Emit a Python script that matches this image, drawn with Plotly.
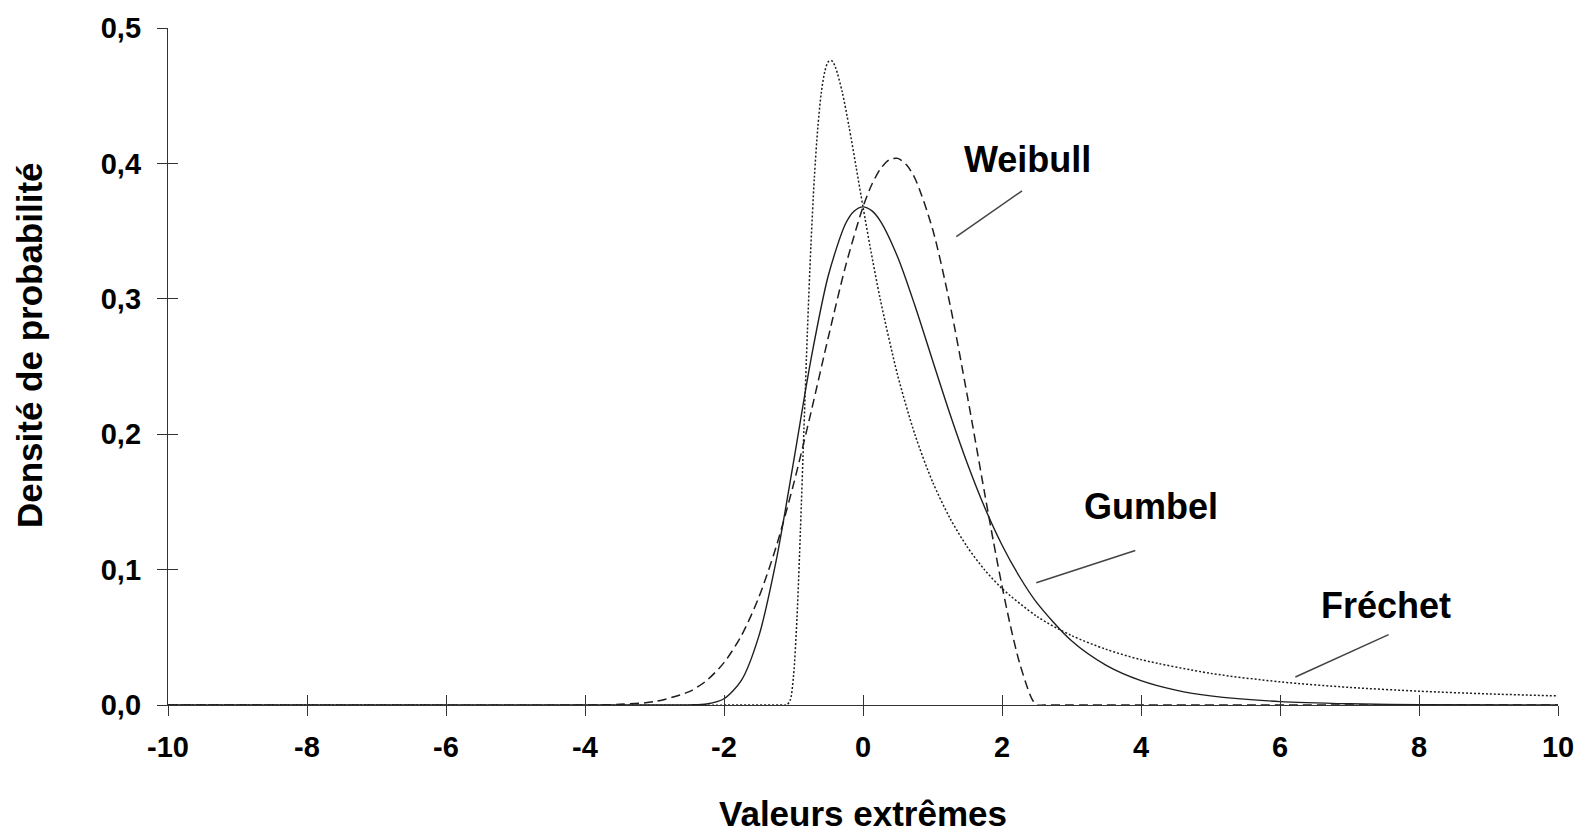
import plotly.graph_objects as go

# ---------------- data ----------------
gumbel_x = [-10, -4, -3, -2.5, -2.25, -2, -1.75, -1.5, -1.25, -1, -0.75, -0.5, -0.25, -0.125,
            0, 0.125, 0.25, 0.5, 0.75, 1, 1.25, 1.5, 1.75, 2, 2.25, 2.5, 3, 3.5, 4, 4.5,
            5, 6, 7, 8, 10]
gumbel_y = [0, 0, 0, 0.0001, 0.0007, 0.0046, 0.0182, 0.0507, 0.1064, 0.1794, 0.2549, 0.3170,
            0.3556, 0.3649, 0.3679, 0.3651, 0.3574, 0.3307, 0.2945, 0.2546, 0.2151, 0.1785,
            0.1460, 0.1182, 0.0949, 0.0756, 0.0474, 0.0293, 0.0180, 0.0110, 0.0067, 0.0025,
            0.0009, 0.0003, 0.0000]

weibull_x = [-10, -4, -3.5, -3, -2.5, -2.25, -2, -1.75, -1.5, -1.25, -1, -0.75, -0.5, -0.25,
             0, 0.125, 0.25, 0.375, 0.5, 0.625, 0.75, 1, 1.25, 1.5, 1.75, 1.875, 2, 2.125,
             2.25, 2.4, 2.45, 2.5, 2.6, 3, 10]
weibull_y = [0, 0, 0.0005, 0.0025, 0.0099, 0.0181, 0.0313, 0.0512, 0.0794, 0.1168, 0.1629,
             0.2158, 0.2714, 0.3243, 0.3679, 0.3842, 0.3959, 0.4026, 0.4037, 0.3990, 0.3887,
             0.3517, 0.2963, 0.2286, 0.1564, 0.1212, 0.0879, 0.0576, 0.0315, 0.0080, 0.0028,
             0, 0, 0, 0]

frechet_x = [-10, -1.2, -1.1, -1.05, -1, -0.95, -0.9, -0.85, -0.8, -0.75, -0.7, -0.65, -0.6,
             -0.55, -0.5, -0.45, -0.4, -0.3, -0.2, -0.1, 0, 0.1, 0.25, 0.5, 0.75, 1, 1.25,
             1.5, 1.75, 2, 2.5, 3, 3.5, 4, 5, 6, 7, 8, 9, 10]
frechet_y = [0, 0, 0.0001, 0.0032, 0.0212, 0.0644, 0.1293, 0.2036, 0.2758, 0.3390, 0.3894,
             0.4267, 0.4523, 0.4678, 0.4750, 0.4758, 0.4715, 0.4530, 0.4269, 0.3976, 0.3679,
             0.3391, 0.2993, 0.2433, 0.1993, 0.1649, 0.1381, 0.1168, 0.0998, 0.0861, 0.0655,
             0.0513, 0.0411, 0.0335, 0.0234, 0.0171, 0.0130, 0.0102, 0.0082, 0.0067]

x_ticks = [-10, -8, -6, -4, -2, 0, 2, 4, 6, 8, 10]
x_tick_labels = ["-10", "-8", "-6", "-4", "-2", "0", "2", "4", "6", "8", "10"]
y_ticks = [0, 0.1, 0.2, 0.3, 0.4, 0.5]
y_tick_labels = ["0,0", "0,1", "0,2", "0,3", "0,4", "0,5"]

x_title = "Valeurs extrêmes"
y_title = "Densité de probabilité"
series_names = ["Gumbel", "Weibull", "Fréchet"]

# ---------------- figure ----------------
FONT = "Liberation Sans, Arial, sans-serif"
INK = "#1e1e1e"
AX = "#333333"

fig = go.Figure()
fig.add_trace(go.Scatter(x=frechet_x, y=frechet_y, mode="lines", name=series_names[2],
                         line=dict(color=INK, width=1.5, dash="2px,2px", shape="spline", smoothing=0.8)))
fig.add_trace(go.Scatter(x=weibull_x, y=weibull_y, mode="lines", name=series_names[1],
                         line=dict(color=INK, width=1.5, dash="9px,5px", shape="spline", smoothing=0.8)))
fig.add_trace(go.Scatter(x=gumbel_x, y=gumbel_y, mode="lines", name=series_names[0],
                         line=dict(color=INK, width=1.4, shape="spline", smoothing=0.8)))
# empty trace so the overlay axes (inner half of the crossing ticks) are drawn
fig.add_trace(go.Scatter(x=[], y=[], xaxis="x2", yaxis="y2", showlegend=False, hoverinfo="skip"))

tickfont = dict(family=FONT, size=29, color="black", weight="bold")

common = dict(showgrid=False, zeroline=False, ticklen=10, tickwidth=1.3, tickcolor=AX)

fig.update_layout(
    width=1588, height=833,
    margin=dict(l=168, r=30, t=22, b=128),
    plot_bgcolor="white", paper_bgcolor="white",
    showlegend=False,
    xaxis=dict(range=[-10, 10], tickvals=x_ticks, ticktext=x_tick_labels, ticks="outside",
               showline=True, linecolor=AX, linewidth=1.3, tickfont=tickfont,
               ticklabelstandoff=6, **common),
    yaxis=dict(range=[0, 0.5], tickvals=y_ticks, ticktext=y_tick_labels, ticks="outside",
               showline=True, linecolor=AX, linewidth=1.3, tickfont=tickfont,
               ticklabelstandoff=10, **common),
    xaxis2=dict(overlaying="x", anchor="y", side="bottom", range=[-10, 10], tickvals=x_ticks,
                ticks="inside", showticklabels=False, showline=False, **common),
    yaxis2=dict(overlaying="y", anchor="x", side="left", range=[0, 0.5], tickvals=y_ticks,
                ticks="inside", showticklabels=False, showline=False, **common),
)

labfont = dict(family=FONT, size=36, color="black", weight="bold")
ann = [
    dict(x=2.36, y=0.403, xref="x", yref="y", text=series_names[1], showarrow=False,
         font=labfont, xanchor="center", yanchor="middle"),
    dict(x=4.137, y=0.1465, xref="x", yref="y", text=series_names[0], showarrow=False,
         font=labfont, xanchor="center", yanchor="middle"),
    dict(x=7.527, y=0.0733, xref="x", yref="y", text=series_names[2], showarrow=False,
         font=labfont, xanchor="center", yanchor="middle"),
    dict(x=0.5, y=-0.161, xref="paper", yref="paper", text=x_title, showarrow=False,
         font=dict(family=FONT, size=35, color="black", weight="bold"),
         xanchor="center", yanchor="middle"),
    dict(x=-0.0991, y=0.532, xref="paper", yref="paper", text=y_title, showarrow=False,
         textangle=-90, font=dict(family=FONT, size=35, color="black", weight="bold"),
         xanchor="center", yanchor="middle"),
]
fig.update_layout(annotations=ann)

leader = dict(color="#444444", width=1.5)
fig.add_shape(type="line", xref="x", yref="y", x0=2.288, y0=0.3797, x1=1.343, y1=0.346, line=leader)
fig.add_shape(type="line", xref="x", yref="y", x0=3.918, y0=0.1141, x1=2.494, y1=0.0903, line=leader)
fig.add_shape(type="line", xref="x", yref="y", x0=7.563, y0=0.052, x1=6.221, y1=0.0207, line=leader)

fig.write_html("out.html")
